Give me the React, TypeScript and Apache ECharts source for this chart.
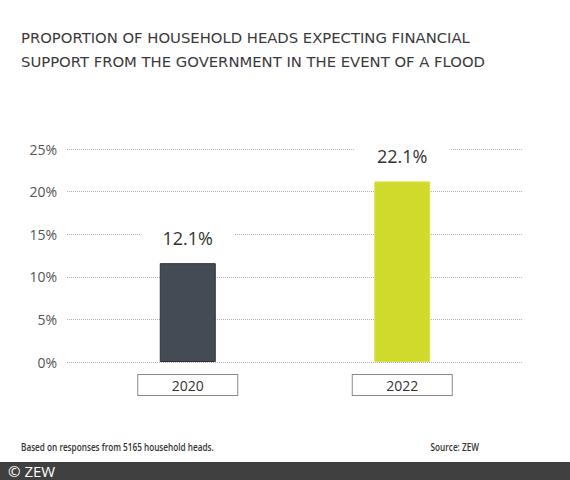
import { useEffect, useRef } from 'react'
import * as echarts from 'echarts'

const years = ['2020', '2022']
const shares = [11.6, 21.2]
const shareLabels = ['12.1%', '22.1%']
const barColors = ['#444b54', '#cfda2b']
const barBorders = ['#2c3238', '#d9e24a']
const yTicks = [0, 5, 10, 15, 20, 25]

const titleText =
  'PROPORTION OF HOUSEHOLD HEADS EXPECTING FINANCIAL\nSUPPORT FROM THE GOVERNMENT IN THE EVENT OF A FLOOD'
const noteText = 'Based on responses from 5165 household heads.'
const sourceText = 'Source: ZEW'
const creditText = '© ZEW'

export default function App() {
  const chartRef = useRef<HTMLDivElement>(null)

  useEffect(() => {
    if (!chartRef.current) return
    const chart = echarts.init(chartRef.current, undefined, { renderer: 'svg' })

    const option: echarts.EChartsOption = {
      animation: false,
      backgroundColor: '#fff',
      title: {
        text: titleText,
        left: 16,
        top: 20,
        textStyle: {
          fontFamily: 'DejaVu Sans',
          fontSize: 14.8,
          fontWeight: 'normal',
          color: '#3a3a3a',
          lineHeight: 24,
        },
      },
      grid: [
        // grid for the dotted lines and y labels
        { left: 67, right: 47, top: 149, bottom: 118 },
        // narrower grid for the bars
        { left: 80.5, right: 60.5, top: 149, bottom: 118 },
      ],
      xAxis: [
        { type: 'value', gridIndex: 0, min: 0, max: 1, show: false },
        {
          type: 'category',
          gridIndex: 1,
          data: years,
          axisLine: { show: false },
          axisTick: { show: false },
          axisLabel: {
            margin: 13,
            fontFamily: 'Open Sans',
            fontSize: 14,
            color: '#333',
            lineHeight: 15,
            width: 99,
            align: 'center',
            padding: [3, 0, 2, 0],
            borderColor: '#8a8a8a',
            borderWidth: 1,
            backgroundColor: '#fff',
          },
        },
      ],
      yAxis: [
        {
          type: 'value',
          gridIndex: 0,
          min: yTicks[0],
          max: yTicks[yTicks.length - 1],
          interval: 5,
          axisLine: { show: false },
          axisTick: { show: false },
          axisLabel: {
            margin: 10,
            fontFamily: 'Open Sans',
            fontSize: 14,
            color: '#555',
            formatter: (v: number) => `${v}%`,
          },
          splitLine: { lineStyle: { type: 'dotted', color: '#b0b0b0', width: 1 } },
        },
        {
          type: 'value',
          gridIndex: 1,
          min: yTicks[0],
          max: yTicks[yTicks.length - 1],
          interval: 5,
          show: false,
          splitLine: { show: false },
        },
      ],
      series: [
        {
          type: 'bar',
          xAxisIndex: 1,
          yAxisIndex: 1,
          barWidth: 56,
          z: 3,
          data: shares.map((v, i) => ({
            value: v,
            itemStyle: { color: barColors[i], borderColor: barBorders[i], borderWidth: 1 },
          })),
          label: {
            show: true,
            position: 'top',
            distance: 14,
            fontFamily: 'Open Sans',
            fontSize: 18,
            color: '#333',
            backgroundColor: '#fff',
            padding: [2, 22],
            formatter: (p: any) => shareLabels[p.dataIndex],
          },
        },
      ],
      graphic: [
        {
          type: 'text',
          x: 21,
          y: 447,
          scaleX: 0.82,
          style: {
            text: noteText,
            fontFamily: 'Open Sans',
            fontSize: 10,
            fontWeight: 600,
            fill: '#333',
            verticalAlign: 'middle',
          },
        },
        {
          type: 'text',
          x: 479,
          y: 447,
          scaleX: 0.82,
          style: {
            text: sourceText,
            fontFamily: 'Open Sans',
            fontSize: 10,
            fontWeight: 600,
            fill: '#333',
            align: 'right',
            verticalAlign: 'middle',
          },
        },
        {
          type: 'rect',
          x: 0,
          y: 462,
          shape: { width: 570, height: 18 },
          style: { fill: '#404040' },
        },
        {
          type: 'text',
          x: 8,
          y: 471,
          style: {
            text: creditText,
            fontFamily: 'Open Sans',
            fontSize: 15,
            fill: '#fff',
            verticalAlign: 'middle',
          },
        },
      ],
    }

    chart.setOption(option)
    return () => {
      chart.dispose()
    }
  }, [])

  return (
    <div
      ref={chartRef}
      style={{ position: 'fixed', left: 0, top: 0, width: 570, height: 480 }}
    />
  )
}
